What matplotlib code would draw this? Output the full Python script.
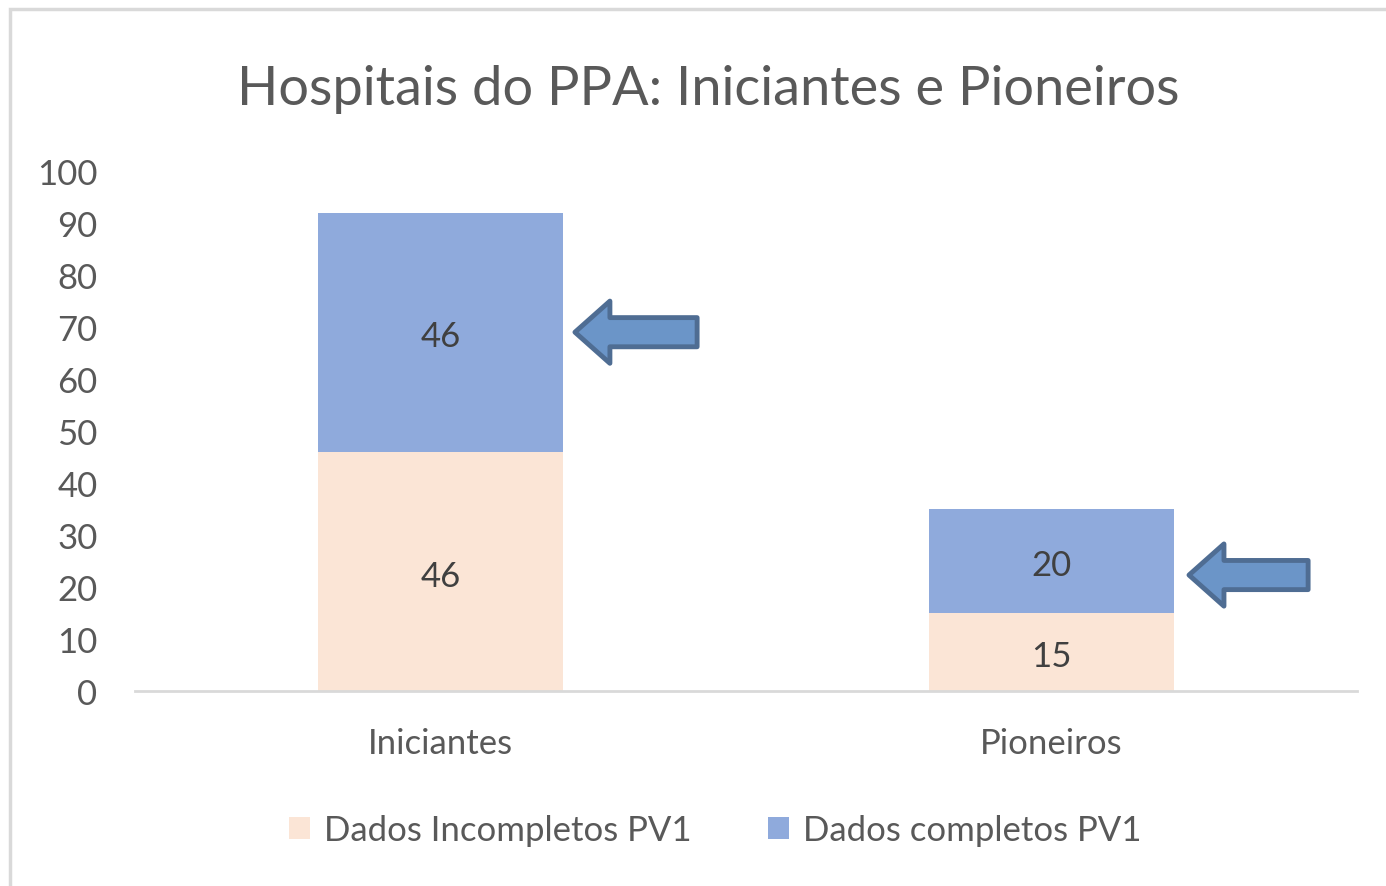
import matplotlib.pyplot as plt
from matplotlib.patches import Rectangle

plt.rcParams['font.family'] = ['Lato', 'DejaVu Sans']

categorias = ['Iniciantes', 'Pioneiros']
incompletos = [46, 15]
completos = [46, 20]
series_nomes = ['Dados Incompletos PV1', 'Dados completos PV1']
yticks = list(range(0, 101, 10))

# arrows pointing at the "completos" segment (tip x, tail x, y)
setas = [(0.22, 0.42, 69), (1.225, 1.42, 22.3)]

cor_inc = '#fbe5d6'
cor_comp = '#8faadc'
cinza = '#595959'

fig = plt.figure(figsize=(13.86, 8.87), dpi=100)
fig.patches.append(Rectangle((10/1386, -0.1), 1.2, 1 - 10/887 + 0.1, transform=fig.transFigure,
                             fill=False, edgecolor='#d9d9d9', lw=2.5))

ax = fig.add_axes([135/1386, (887-692)/887, (1357-135)/1386, 520/887])
x = range(len(categorias))
b1 = ax.bar(x, incompletos, width=0.40, color=cor_inc, label=series_nomes[0])
b2 = ax.bar(x, completos, width=0.40, bottom=incompletos, color=cor_comp, label=series_nomes[1])

for bars, vals, bases in [(b1, incompletos, [0, 0]), (b2, completos, incompletos)]:
    for r, v, b in zip(bars, vals, bases):
        ax.annotate(str(v), (r.get_x() + r.get_width()/2, b + v/2), xytext=(0, -3),
                    textcoords='offset points', ha='center', va='center',
                    fontsize=25, color='#404040')

for tip, tail, y in setas:
    ax.annotate('', xy=(tip, y), xytext=(tail, y),
                arrowprops=dict(arrowstyle='simple,head_length=0.36,head_width=0.64,tail_width=0.3',
                                fc='#6b95c8', ec='#4f6d93', lw=3.5, mutation_scale=70,
                                shrinkA=0, shrinkB=0))

ax.set_xlim(-0.5, 1.5)
ax.set_ylim(0, 100)
ax.set_yticks(yticks)
ax.set_xticks(list(x))
ax.set_xticklabels(categorias)
for s in ['top', 'right', 'left']:
    ax.spines[s].set_visible(False)
ax.spines['bottom'].set_color('#d9d9d9')
ax.spines['bottom'].set_linewidth(2)
ax.tick_params(axis='y', length=0, labelsize=25, labelcolor=cinza, pad=27)
ax.tick_params(axis='x', length=0, labelsize=25, labelcolor=cinza, pad=26)

fig.text(0.511, 0.899, 'Hospitais do PPA: Iniciantes e Pioneiros', ha='center', va='center',
         fontsize=39, color=cinza)

fig.legend(handles=[b1, b2], loc='center', bbox_to_anchor=(0.516, 0.063), ncol=2, frameon=False,
           fontsize=25, labelcolor=cinza, handlelength=0.6, handleheight=0.6,
           handletextpad=0.4, columnspacing=2.2)

fig.savefig('out.png', dpi=100)
